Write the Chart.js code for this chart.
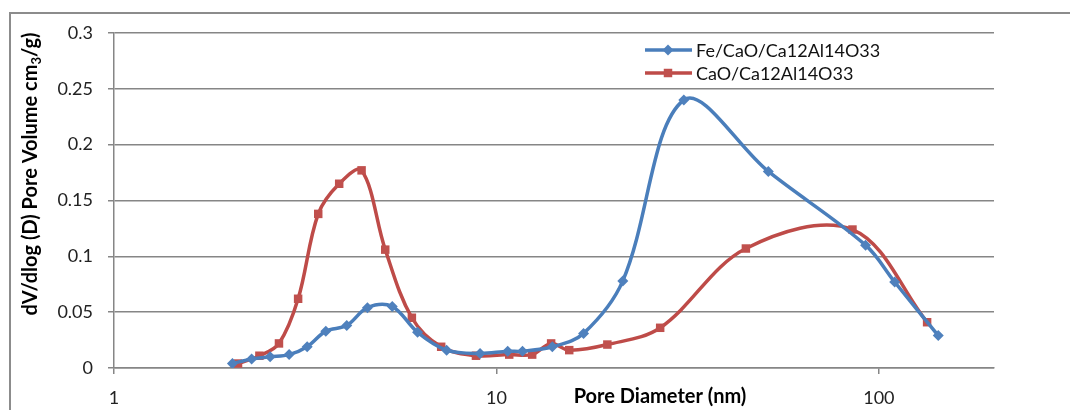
<!DOCTYPE html>
<html>
<head>
<meta charset="utf-8">
<script src="https://cdn.jsdelivr.net/npm/chart.js@4/dist/chart.umd.min.js"></script>
<style>
  html, body { margin: 0; padding: 0; background: #fff; }
  #wrap { position: relative; width: 1070px; height: 410px; overflow: hidden; }
  #frame {
    position: absolute; left: 9px; top: 12px; width: 1100px; height: 440px;
    border-left: 2px solid #8c8c8c; border-top: 2px solid #8c8c8c;
    pointer-events: none;
  }
</style>
</head>
<body>
<div id="wrap">
  <canvas id="poreChart" width="1070" height="410"></canvas>
  <div id="frame"></div>
</div>
<script>
// Pore size distribution (BJH) for both sorbents
var feDiameter = [2.04, 2.29, 2.56, 2.87, 3.2, 3.58, 4.06, 4.6, 5.34, 6.22, 7.41, 9.06, 10.7, 11.7, 14, 16.9, 21.4, 30.9, 51.4, 92.3, 110, 143];
var feVolume   = [0.004, 0.008, 0.010, 0.012, 0.019, 0.033, 0.038, 0.054, 0.055, 0.032, 0.016, 0.013, 0.015, 0.015, 0.019, 0.031, 0.078, 0.240, 0.176, 0.110, 0.077, 0.029];

var caoDiameter = [2.11, 2.4, 2.7, 3.03, 3.42, 3.88, 4.44, 5.12, 6.01, 7.17, 8.84, 10.8, 12.4, 13.9, 15.5, 19.5, 26.8, 44.9, 85.3, 133.7];
var caoVolume   = [0.004, 0.011, 0.022, 0.062, 0.138, 0.165, 0.177, 0.106, 0.045, 0.019, 0.011, 0.012, 0.012, 0.022, 0.016, 0.021, 0.036, 0.107, 0.124, 0.041];

var xTicks = [1, 10, 100];
var seriesNames = ['Fe/CaO/Ca12Al14O33', 'CaO/Ca12Al14O33'];
var xTitle = 'Pore Diameter (nm)';
var yTitle = ['dV/dlog (D) Pore Volume cm', '3', '/g)'];

var blue = '#4a7ebb';
var red = '#be4b48';
var gridGrey = '#868686';

function toPoints(xs, ys) {
  return xs.map(function(x, i) { return {x: x, y: ys[i]}; });
}

// legend sits inside the plot, top right
var innerLegend = {
  id: 'innerLegend',
  afterDraw: function(chart) {
    var ctx = chart.ctx;
    var x0 = 645, y0 = 50, rowH = 23;
    ctx.save();
    ctx.font = '18px Lato';
    ctx.textBaseline = 'middle';
    chart.data.datasets.forEach(function(ds, i) {
      var y = y0 + i * rowH;
      ctx.strokeStyle = ds.borderColor;
      ctx.lineWidth = 3.5;
      ctx.beginPath();
      ctx.moveTo(x0, y);
      ctx.lineTo(x0 + 47, y);
      ctx.stroke();
      ctx.fillStyle = ds.pointBackgroundColor;
      Chart.helpers.drawPoint(ctx, {pointStyle: ds.pointStyle, radius: ds.pointRadius, rotation: 0, borderWidth: 0}, x0 + 23, y);
      ctx.fillStyle = '#111';
      ctx.fillText(ds.label, x0 + 51, y + 1);
    });
    ctx.restore();
  }
};

// axis titles: x title shares the tick label row, y title has a subscript
var axisTitles = {
  id: 'axisTitles',
  afterDraw: function(chart) {
    var ctx = chart.ctx;
    ctx.save();
    ctx.fillStyle = '#000';
    ctx.font = 'bold 20px Lato';
    ctx.textAlign = 'center';
    ctx.textBaseline = 'middle';
    ctx.fillText(xTitle, 660, 397);

    ctx.translate(31, 174);
    ctx.rotate(-Math.PI / 2);
    ctx.textAlign = 'left';
    var bold = 'bold 20px Lato', small = 'bold 13px Lato';
    ctx.font = bold;
    var w0 = ctx.measureText(yTitle[0]).width;
    var w2 = ctx.measureText(yTitle[2]).width;
    ctx.font = small;
    var w1 = ctx.measureText(yTitle[1]).width;
    var start = -(w0 + w1 + w2) / 2;
    ctx.font = bold;
    ctx.fillText(yTitle[0], start, 0);
    ctx.font = small;
    ctx.fillText(yTitle[1], start + w0, 6);
    ctx.font = bold;
    ctx.fillText(yTitle[2], start + w0 + w1, 0);
    ctx.restore();
  }
};

var ctx = document.getElementById('poreChart').getContext('2d');
var poreChart = new Chart(ctx, {
  type: 'line',
  data: {
    datasets: [{
      label: seriesNames[0],
      data: toPoints(feDiameter, feVolume),
      borderColor: blue,
      backgroundColor: blue,
      pointBackgroundColor: '#4f81bd',
      pointBorderWidth: 0,
      pointStyle: 'rectRot',
      pointRadius: 5.5,
      borderWidth: 3.5,
      tension: 0.35,
      fill: false
    }, {
      label: seriesNames[1],
      data: toPoints(caoDiameter, caoVolume),
      borderColor: red,
      backgroundColor: red,
      pointBackgroundColor: '#c0504d',
      pointBorderWidth: 0,
      pointStyle: 'rect',
      pointRadius: 6,
      borderWidth: 3.5,
      tension: 0.35,
      fill: false
    }]
  },
  options: {
    responsive: false,
    animation: false,
    layout: { padding: { top: 33, right: 76, left: 0, bottom: 0 } },
    plugins: {
      legend: { display: false },
      tooltip: { enabled: false }
    },
    scales: {
      x: {
        type: 'logarithmic',
        min: 1,
        max: 200,
        afterBuildTicks: function(scale) {
          scale.ticks = xTicks.map(function(v) { return {value: v}; });
        },
        afterFit: function(scale) { scale.height = 42; },
        ticks: {
          autoSkip: false,
          maxRotation: 0,
          padding: 13,
          color: '#222',
          font: { family: 'Lato', size: 18 },
          callback: function(v) { return String(v); }
        },
        grid: {
          drawOnChartArea: false,
          color: gridGrey,
          lineWidth: 1.5,
          tickLength: 6
        },
        border: { color: gridGrey, width: 1.5 }
      },
      y: {
        min: 0,
        max: 0.3,
        afterFit: function(scale) { scale.width = 114; },
        ticks: {
          stepSize: 0.05,
          padding: 15,
          color: '#222',
          font: { family: 'Lato', size: 18 },
          callback: function(v) { return String(Number(v.toFixed(2))); }
        },
        grid: {
          color: gridGrey,
          lineWidth: 1.5,
          tickLength: 6
        },
        border: { color: gridGrey, width: 1.5 }
      }
    }
  },
  plugins: [innerLegend, axisTitles]
});
</script>
</body>
</html>
